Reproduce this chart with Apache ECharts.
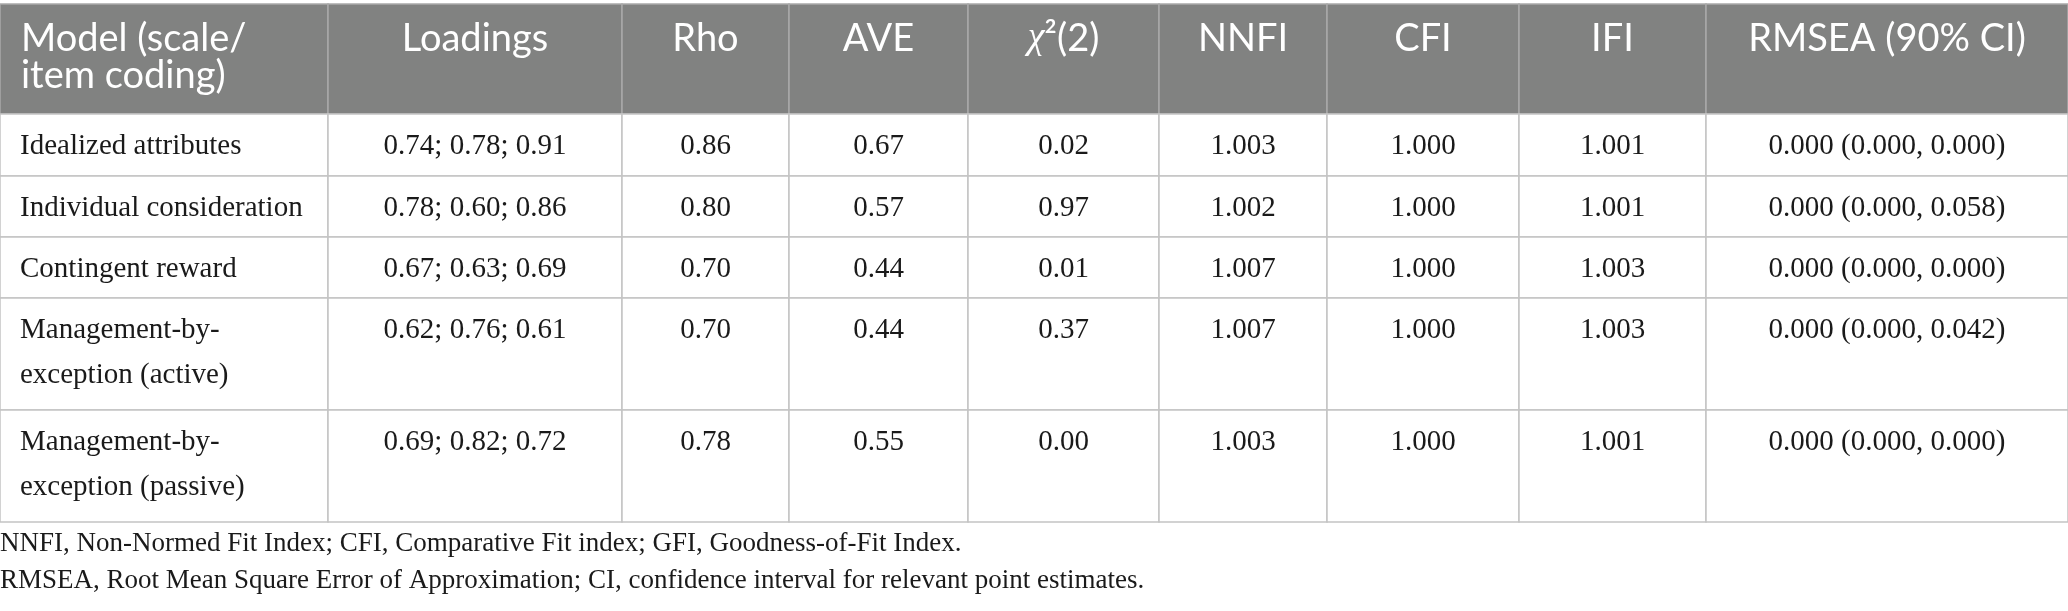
<!DOCTYPE html>
<html>
<head>
<meta charset="utf-8">
<script src="https://cdn.jsdelivr.net/npm/echarts@6/dist/echarts.min.js"></script>
<style>
html,body{margin:0;padding:0;background:#fff;}
#chart{width:2068px;height:611px;}
</style>
</head>
<body>
<div id="chart"></div>
<script>
// ---- data ----
const headers = ['Model (scale/\nitem coding)', 'Loadings', 'Rho', 'AVE', '{c|χ}²(2)', 'NNFI', 'CFI', 'IFI', 'RMSEA (90% CI)'];
const models = ['Idealized attributes', 'Individual consideration', 'Contingent reward', 'Management-by-\nexception (active)', 'Management-by-\nexception (passive)'];
const loadings = ['0.74; 0.78; 0.91', '0.78; 0.60; 0.86', '0.67; 0.63; 0.69', '0.62; 0.76; 0.61', '0.69; 0.82; 0.72'];
const rho = [0.86, 0.80, 0.70, 0.70, 0.78];
const ave = [0.67, 0.57, 0.44, 0.44, 0.55];
const chi2 = [0.02, 0.97, 0.01, 0.37, 0.00];
const nnfi = [1.003, 1.002, 1.007, 1.007, 1.003];
const cfi = [1.000, 1.000, 1.000, 1.000, 1.000];
const ifi = [1.001, 1.001, 1.003, 1.003, 1.001];
const rmsea = [0.000, 0.000, 0.000, 0.000, 0.000];
const rmseaLo = [0.000, 0.000, 0.000, 0.000, 0.000];
const rmseaHi = [0.000, 0.058, 0.000, 0.042, 0.000];
const footnotes = [
  'NNFI, Non-Normed Fit Index; CFI, Comparative Fit index; GFI, Goodness-of-Fit Index.',
  'RMSEA, Root Mean Square Error of Approximation; CI, confidence interval for relevant point estimates.'
];

// ---- layout (axis units = pixels) ----
const colEdges = [0, 328, 622, 789, 968, 1159, 1327, 1519, 1706, 2068];
const rowEdges = [4, 114, 176, 237, 298, 410, 522];

// ---- build cells ----
const cells = [];
headers.forEach((h, c) => cells.push([c, 0, h]));
models.forEach((m, i) => {
  const r = i + 1;
  const row = [
    m,
    loadings[i],
    rho[i].toFixed(2),
    ave[i].toFixed(2),
    chi2[i].toFixed(2),
    nnfi[i].toFixed(3),
    cfi[i].toFixed(3),
    ifi[i].toFixed(3),
    rmsea[i].toFixed(3) + ' (' + rmseaLo[i].toFixed(3) + ', ' + rmseaHi[i].toFixed(3) + ')'
  ];
  row.forEach((t, c) => cells.push([c, r, t]));
});

const HEADER_BG = '#818281';

function renderItem(params, api) {
  const c = api.value(0), r = api.value(1);
  const idx = params.dataIndex;
  const text = cells[idx][2];
  const p0 = api.coord([colEdges[c], rowEdges[r]]);
  const p1 = api.coord([colEdges[c + 1], rowEdges[r + 1]]);
  const x = p0[0], y = p0[1], w = p1[0] - p0[0], h = p1[1] - p0[1];
  const isHeader = r === 0;
  const left = c === 0;
  const children = [{
    type: 'rect',
    shape: { x: x, y: y, width: w, height: h },
    style: {
      fill: isHeader ? HEADER_BG : '#ffffff',
      stroke: isHeader ? '#a9a9a9' : '#c4c4c4',
      lineWidth: 1.5
    }
  }];
  if (isHeader) {
    children.push({
      type: 'text',
      style: {
        text: text,
        x: left ? x + 21 : x + w / 2,
        y: y + 16,
        align: left ? 'left' : 'center',
        verticalAlign: 'top',
        fontFamily: 'Lato',
        fontSize: 38,
        lineHeight: 37,
        fill: '#ffffff',
        rich: {
          c: { fontFamily: 'Liberation Serif', fontStyle: 'italic', fontSize: 38, fill: '#ffffff', lineHeight: 37 }
        }
      }
    });
  } else {
    children.push({
      type: 'text',
      style: {
        text: text,
        x: left ? x + 20 : x + w / 2,
        y: y + 10,
        align: left ? 'left' : 'center',
        verticalAlign: 'top',
        fontFamily: 'Liberation Serif',
        fontSize: 29,
        lineHeight: 45,
        fill: '#1a1a1a'
      }
    });
  }
  return { type: 'group', children: children };
}

const chart = echarts.init(document.getElementById('chart'), null, { renderer: 'canvas' });
chart.setOption({
  animation: false,
  backgroundColor: '#ffffff',
  title: {
    text: footnotes.join('\n'),
    left: 0,
    top: 525,
    padding: 0,
    textStyle: {
      fontFamily: 'Liberation Serif',
      fontSize: 27,
      fontWeight: 'normal',
      color: '#1a1a1a',
      lineHeight: 37
    }
  },
  grid: { left: 0, right: 0, top: 0, bottom: 0 },
  xAxis: { type: 'value', min: 0, max: 2068, show: false },
  yAxis: { type: 'value', min: 0, max: 611, inverse: true, show: false },
  series: [{
    type: 'custom',
    renderItem: renderItem,
    data: cells.map(d => [d[0], d[1]]),
    clip: false
  }]
});
</script>
</body>
</html>
